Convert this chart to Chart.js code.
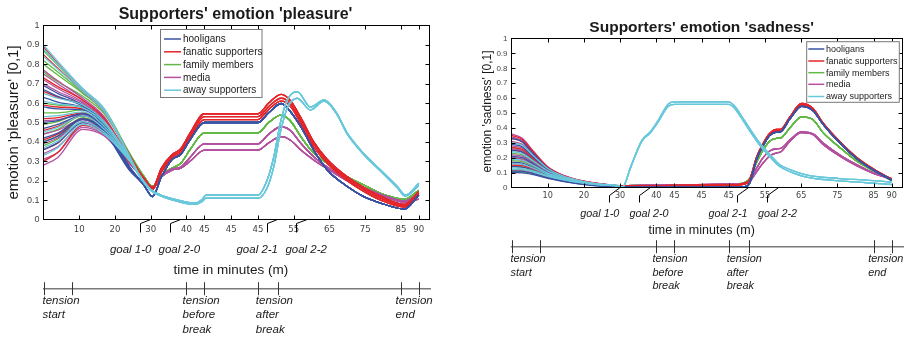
<!DOCTYPE html>
<html>
<head>
<meta charset="utf-8">
<script src="https://cdn.jsdelivr.net/npm/chart.js@4.4.1/dist/chart.umd.min.js"></script>
<style>
    html, body { margin: 0; padding: 0; background: #fff; }
    #wrap { position: relative; width: 910px; height: 339px; overflow: hidden; }
    .pane { position: absolute; top: 0; width: 455px; height: 339px; }
</style>
</head>
<body>
<div id="wrap">
    <div class="pane" style="left:0"><canvas id="pleasureChart" width="455" height="339"></canvas></div>
    <div class="pane" style="left:455px"><canvas id="sadnessChart" width="455" height="339"></canvas></div>
</div>
<script>
// Time axis in plot units: the half-time break is stretched over 45..60
const X_MIN = 0;
const X_MAX = 108;
const TICK_POS = [10, 20, 30, 40, 45, 52.5, 60, 70, 80, 90, 100, 105];
const TICK_LABELS = ['10', '20', '30', '40', '45', '45', '45', '55', '65', '75', '85', '90'];

const GROUPS = ['hooligans', 'fanatic supporters', 'family members', 'media', 'away supporters'];
const COLORS = ['#3a52a3', '#e3262b', '#63b946', '#b4519f', '#6ac8db'];

const GOAL_LABELS = ['goal 1-0', 'goal 2-0', 'goal 2-1', 'goal 2-2'];
const GOAL_AT = [30, 38.4, 65.5, 73.8];
const GOAL_LABEL_AT = [24.4, 38, 59.8, 73.5];

const TENSION_AT = [0, 8, 40, 45, 60, 65.5, 100, 105];
const TENSION_LABELS = [['tension', 'start'], ['tension', 'before', 'break'], ['tension', 'after', 'break'], ['tension', 'end']];
const TENSION_LABEL_AT = [0, 39.2, 59.7, 98.8];

// ---------- emotion 'pleasure' ----------
const P_HEAD_X = [0, 4, 11, 17, 24];
const P_HOOL_HEAD = [
    [0.69, 0.65, 0.59, 0.5, 0.275],
    [0.67, 0.635, 0.585, 0.495, 0.272],
    [0.63, 0.605, 0.575, 0.49, 0.27],
    [0.58, 0.57, 0.565, 0.485, 0.268],
    [0.50, 0.51, 0.545, 0.475, 0.265],
    [0.47, 0.49, 0.535, 0.47, 0.262],
    [0.42, 0.445, 0.52, 0.46, 0.26],
    [0.40, 0.43, 0.515, 0.455, 0.258],
    [0.36, 0.395, 0.5, 0.45, 0.255]
];
const P_FAN_HEAD = [
    [0.89, 0.805, 0.67, 0.565, 0.335],
    [0.85, 0.78, 0.66, 0.555, 0.33],
    [0.73, 0.685, 0.615, 0.52, 0.322],
    [0.66, 0.63, 0.59, 0.505, 0.318],
    [0.59, 0.58, 0.57, 0.49, 0.314],
    [0.52, 0.525, 0.55, 0.475, 0.31],
    [0.46, 0.48, 0.535, 0.465, 0.306],
    [0.41, 0.44, 0.52, 0.458, 0.303],
    [0.36, 0.395, 0.505, 0.45, 0.3],
    [0.30, 0.345, 0.485, 0.442, 0.297]
];
const P_FAM_HEAD = [
    [0.87, 0.795, 0.67, 0.57, 0.345],
    [0.82, 0.76, 0.655, 0.56, 0.342],
    [0.80, 0.745, 0.65, 0.555, 0.34],
    [0.76, 0.71, 0.635, 0.545, 0.338],
    [0.60, 0.59, 0.58, 0.505, 0.33],
    [0.55, 0.55, 0.565, 0.495, 0.328],
    [0.49, 0.505, 0.55, 0.485, 0.325],
    [0.44, 0.465, 0.535, 0.475, 0.322],
    [0.40, 0.43, 0.525, 0.47, 0.32],
    [0.38, 0.415, 0.52, 0.468, 0.32]
];
const P_MEDIA_HEAD = [
    [0.77, 0.715, 0.625, 0.53, 0.315],
    [0.75, 0.7, 0.615, 0.525, 0.313],
    [0.72, 0.675, 0.605, 0.515, 0.31],
    [0.70, 0.66, 0.6, 0.51, 0.308],
    [0.51, 0.515, 0.54, 0.47, 0.3],
    [0.44, 0.46, 0.515, 0.455, 0.297],
    [0.39, 0.42, 0.5, 0.445, 0.295],
    [0.34, 0.375, 0.485, 0.44, 0.293],
    [0.31, 0.345, 0.475, 0.435, 0.29],
    [0.28, 0.32, 0.465, 0.43, 0.288]
];
const P_AWAY_HEAD = [
    [0.90, 0.815, 0.675, 0.57, 0.33],
    [0.88, 0.8, 0.67, 0.565, 0.328],
    [0.84, 0.775, 0.66, 0.555, 0.326],
    [0.65, 0.625, 0.59, 0.505, 0.32],
    [0.61, 0.595, 0.575, 0.495, 0.318],
    [0.53, 0.535, 0.555, 0.48, 0.314],
    [0.45, 0.475, 0.535, 0.465, 0.31],
    [0.37, 0.405, 0.505, 0.45, 0.306],
    [0.33, 0.37, 0.49, 0.44, 0.303]
];

const P_HOME_X = [28, 30.5, 33, 36, 38.4, 41, 45, 60, 63, 66.5, 69, 72, 75.6, 79.4, 85, 89.6, 94.3, 101, 105];
const P_HOOL_TAIL = [0.18, 0.118, 0.22, 0.31, 0.335, 0.41, 0.5, 0.5, 0.55, 0.598, 0.558, 0.478, 0.358, 0.255, 0.17, 0.118, 0.085, 0.054, 0.125];
const P_FAN_TAIL_A = [0.215, 0.165, 0.265, 0.335, 0.365, 0.445, 0.545, 0.545, 0.6, 0.645, 0.615, 0.525, 0.4, 0.31, 0.22, 0.165, 0.12, 0.078, 0.145];
const P_FAN_TAIL_B = [0.21, 0.16, 0.255, 0.325, 0.355, 0.432, 0.53, 0.53, 0.583, 0.625, 0.6, 0.51, 0.39, 0.3, 0.21, 0.155, 0.11, 0.07, 0.135];
const P_FAN_TAIL_C = [0.205, 0.155, 0.245, 0.315, 0.345, 0.42, 0.515, 0.515, 0.567, 0.61, 0.585, 0.495, 0.375, 0.29, 0.2, 0.145, 0.1, 0.064, 0.128];
const P_FAM_TAIL = [0.225, 0.17, 0.23, 0.265, 0.29, 0.36, 0.447, 0.447, 0.5, 0.538, 0.51, 0.427, 0.342, 0.29, 0.22, 0.178, 0.135, 0.105, 0.15];
const P_MEDIA_TAIL_A = [0.215, 0.165, 0.225, 0.26, 0.27, 0.32, 0.39, 0.39, 0.44, 0.478, 0.46, 0.393, 0.324, 0.27, 0.205, 0.165, 0.13, 0.095, 0.135];
const P_MEDIA_TAIL_B = [0.21, 0.16, 0.22, 0.255, 0.265, 0.3, 0.358, 0.358, 0.395, 0.427, 0.41, 0.358, 0.307, 0.262, 0.2, 0.16, 0.125, 0.09, 0.105];

const P_AWAY_X = [27, 30, 33, 36.5, 40, 42.5, 44.2, 45.5, 60, 62.5, 64.4, 66.3, 68.2, 71, 74.7, 78.5, 82, 85, 89.6, 94.3, 99, 101.3, 105];
const P_AWAY_TAIL_A = [0.225, 0.155, 0.125, 0.105, 0.09, 0.085, 0.1, 0.126, 0.126, 0.2, 0.32, 0.5, 0.616, 0.659, 0.58, 0.617, 0.55, 0.445, 0.34, 0.255, 0.17, 0.126, 0.187];
const P_AWAY_TAIL_B = [0.22, 0.15, 0.12, 0.098, 0.082, 0.078, 0.09, 0.11, 0.11, 0.16, 0.27, 0.45, 0.575, 0.625, 0.565, 0.61, 0.545, 0.44, 0.335, 0.25, 0.163, 0.12, 0.175];

// ---------- emotion 'sadness' ----------
const S_HEAD_X = [0, 3, 6, 10, 14, 20, 25];
const S_HOOL_HEAD = [
    [0.33, 0.306, 0.228, 0.13, 0.077, 0.035, 0.015],
    [0.29, 0.273, 0.206, 0.122, 0.073, 0.033, 0.014],
    [0.25, 0.237, 0.183, 0.111, 0.068, 0.031, 0.013],
    [0.21, 0.2, 0.159, 0.099, 0.062, 0.029, 0.012],
    [0.17, 0.164, 0.134, 0.087, 0.056, 0.026, 0.011],
    [0.14, 0.137, 0.115, 0.078, 0.051, 0.024, 0.01],
    [0.11, 0.108, 0.094, 0.066, 0.045, 0.021, 0.009],
    [0.10, 0.098, 0.086, 0.061, 0.041, 0.019, 0.008]
];
const S_FAN_HEAD = [
    [0.35, 0.322, 0.24, 0.138, 0.084, 0.042, 0.024],
    [0.33, 0.306, 0.23, 0.134, 0.082, 0.041, 0.023],
    [0.27, 0.255, 0.197, 0.121, 0.076, 0.038, 0.021],
    [0.25, 0.237, 0.185, 0.115, 0.073, 0.037, 0.021],
    [0.19, 0.182, 0.148, 0.097, 0.065, 0.034, 0.019],
    [0.15, 0.146, 0.124, 0.085, 0.059, 0.032, 0.018],
    [0.12, 0.118, 0.104, 0.075, 0.053, 0.029, 0.016],
    [0.115, 0.113, 0.1, 0.073, 0.052, 0.029, 0.016]
];
const S_FAM_HEAD = [
    [0.30, 0.282, 0.214, 0.128, 0.079, 0.04, 0.022],
    [0.27, 0.255, 0.197, 0.121, 0.076, 0.038, 0.021],
    [0.23, 0.219, 0.173, 0.109, 0.071, 0.036, 0.02],
    [0.20, 0.191, 0.155, 0.1, 0.067, 0.035, 0.019],
    [0.18, 0.173, 0.142, 0.094, 0.064, 0.034, 0.019],
    [0.14, 0.137, 0.117, 0.082, 0.057, 0.031, 0.017],
    [0.11, 0.108, 0.097, 0.071, 0.05, 0.028, 0.016],
    [0.105, 0.103, 0.093, 0.069, 0.049, 0.027, 0.015]
];
const S_MEDIA_HEAD = [
    [0.36, 0.33, 0.245, 0.14, 0.085, 0.042, 0.024],
    [0.34, 0.315, 0.235, 0.136, 0.083, 0.041, 0.023],
    [0.31, 0.29, 0.22, 0.13, 0.08, 0.04, 0.022],
    [0.28, 0.264, 0.203, 0.124, 0.077, 0.039, 0.022],
    [0.26, 0.246, 0.191, 0.118, 0.075, 0.038, 0.021],
    [0.22, 0.21, 0.167, 0.106, 0.069, 0.036, 0.02],
    [0.20, 0.191, 0.155, 0.1, 0.067, 0.035, 0.019],
    [0.16, 0.155, 0.13, 0.088, 0.061, 0.033, 0.018]
];
const S_AWAY_HEAD = [
    [0.30, 0.282, 0.214, 0.128, 0.079, 0.04, 0.022],
    [0.24, 0.228, 0.179, 0.112, 0.072, 0.037, 0.02],
    [0.19, 0.182, 0.148, 0.097, 0.065, 0.034, 0.019],
    [0.16, 0.155, 0.13, 0.088, 0.061, 0.033, 0.018],
    [0.13, 0.127, 0.111, 0.079, 0.055, 0.03, 0.017],
    [0.12, 0.118, 0.104, 0.075, 0.053, 0.029, 0.016]
];

const S_HOME_X = [30, 40, 45, 60, 64.5, 65.8, 67.7, 69.5, 71.3, 73.2, 74.3, 76.9, 80.1, 83.3, 86, 90.6, 95.2, 99.8, 105];
const S_HOOL_TAIL = [0.0, 0.0, 0.002, 0.003, 0.005, 0.03, 0.19, 0.28, 0.348, 0.372, 0.374, 0.46, 0.545, 0.515, 0.425, 0.3, 0.197, 0.12, 0.05];
const S_FAN_TAIL_A = [0.01, 0.012, 0.014, 0.016, 0.03, 0.055, 0.205, 0.295, 0.362, 0.39, 0.39, 0.474, 0.564, 0.53, 0.435, 0.31, 0.205, 0.127, 0.055];
const S_FAN_TAIL_B = [0.01, 0.011, 0.012, 0.014, 0.025, 0.045, 0.195, 0.285, 0.352, 0.38, 0.381, 0.465, 0.555, 0.523, 0.43, 0.305, 0.2, 0.123, 0.052];
const S_FAM_TAIL = [0.012, 0.015, 0.018, 0.02, 0.035, 0.06, 0.17, 0.25, 0.31, 0.33, 0.332, 0.4, 0.474, 0.455, 0.37, 0.27, 0.18, 0.115, 0.048];
const S_MEDIA_TAIL_A = [0.012, 0.015, 0.018, 0.022, 0.03, 0.05, 0.13, 0.2, 0.245, 0.26, 0.262, 0.32, 0.373, 0.36, 0.3, 0.22, 0.155, 0.1, 0.06];
const S_MEDIA_TAIL_B = [0.012, 0.015, 0.018, 0.02, 0.026, 0.04, 0.105, 0.165, 0.212, 0.232, 0.238, 0.31, 0.368, 0.355, 0.29, 0.212, 0.148, 0.097, 0.056];

const S_AWAY_X = [30, 30.6, 33, 36, 38.3, 40.5, 43.3, 45, 60, 61.5, 63, 65.8, 68.6, 72, 74, 77, 81.4, 90.6, 98, 105];
const S_AWAY_TAIL_A = [0.008, 0.0, 0.145, 0.317, 0.373, 0.45, 0.56, 0.575, 0.575, 0.55, 0.5, 0.395, 0.297, 0.205, 0.155, 0.12, 0.085, 0.06, 0.05, 0.037];
const S_AWAY_TAIL_B = [0.008, 0.0, 0.14, 0.31, 0.366, 0.44, 0.545, 0.558, 0.558, 0.535, 0.485, 0.38, 0.283, 0.19, 0.142, 0.105, 0.07, 0.045, 0.032, 0.02];

const SANS = '"Liberation Sans", Arial, Helvetica, sans-serif';
const NARROW = '"Liberation Sans Narrow", "DejaVu Sans Condensed", "Liberation Sans", sans-serif';

/**
 * Glues an agent's own start of the match onto its group's shared course
 */
function joinLine(headX, head, tailX, tail) {
    const pts = headX.map((x, i) => ({ x: x, y: head[i] }));
    tailX.forEach((x, i) => pts.push({ x: x, y: tail[i] }));
    return pts;
}

function buildDatasets(groups) {
    const sets = [];
    groups.forEach(g => {
        g.heads.forEach((head, i) => {
            sets.push({
                label: GROUPS[g.idx],
                data: joinLine(g.headX, head, g.tailX, g.tails[i % g.tails.length]),
                borderColor: COLORS[g.idx],
                borderWidth: 1.3,
                pointRadius: 0,
                fill: false,
                cubicInterpolationMode: 'monotone'
            });
        });
    });
    return sets;
}

/**
 * MATLAB-like decorations: boxed axes with inward ticks, title, legend,
 * goal markers under the time axis and the tension timeline.
 */
const decorPlugin = {
    id: 'decor',
    afterDraw(chart, args, o) {
        const ctx = chart.ctx;
        const a = chart.chartArea;
        const xs = chart.scales.x;
        const ys = chart.scales.y;
        ctx.save();

        // frame + inward ticks
        ctx.strokeStyle = '#000';
        ctx.lineWidth = 1;
        ctx.strokeRect(a.left, a.top, a.right - a.left, a.bottom - a.top);
        ctx.beginPath();
        TICK_POS.forEach(v => {
            const px = Math.round(xs.getPixelForValue(v)) + 0.5;
            ctx.moveTo(px, a.bottom); ctx.lineTo(px, a.bottom - 4);
            ctx.moveTo(px, a.top); ctx.lineTo(px, a.top + 4);
        });
        for (let k = 1; k < 10; k++) {
            const py = Math.round(ys.getPixelForValue(k / 10)) + 0.5;
            ctx.moveTo(a.left, py); ctx.lineTo(a.left + 4, py);
            ctx.moveTo(a.right, py); ctx.lineTo(a.right - 4, py);
        }
        ctx.stroke();

        // title
        ctx.fillStyle = '#1a1a1a';
        ctx.textAlign = 'center';
        ctx.textBaseline = 'middle';
        ctx.font = `bold ${o.titleSize}px ${SANS}`;
        ctx.fillText(o.title, o.titleX, o.titleY);

        // y axis title
        ctx.save();
        ctx.translate(o.yTitleX, o.yTitleY);
        ctx.rotate(-Math.PI / 2);
        ctx.font = `${o.yTitleSize}px ${SANS}`;
        ctx.fillText(o.yTitle, 0, 0);
        ctx.restore();

        // goal leader lines and labels
        ctx.beginPath();
        GOAL_AT.forEach(g => {
            const p0 = xs.getPixelForValue(g);
            const p1 = Math.round(xs.getPixelForValue(g - 3.1)) + 0.5;
            ctx.moveTo(p0, a.bottom);
            ctx.lineTo(p1, a.bottom + o.goalDrop);
            ctx.lineTo(p1, a.bottom + o.goalDrop + o.goalStem);
        });
        ctx.stroke();
        ctx.font = `italic ${o.goalSize}px ${SANS}`;
        GOAL_LABELS.forEach((t, i) => {
            ctx.fillText(t, xs.getPixelForValue(GOAL_LABEL_AT[i]), o.goalY);
        });

        // x axis title
        ctx.font = `${o.xTitleSize}px ${SANS}`;
        ctx.fillText('time in minutes (m)', o.xTitleX, o.xTitleY);

        // tension timeline
        ctx.strokeStyle = '#7a7a7a';
        ctx.lineWidth = 1.6;
        ctx.beginPath();
        ctx.moveTo(o.tlX0, o.tlY);
        ctx.lineTo(o.tlX1, o.tlY);
        ctx.stroke();
        ctx.strokeStyle = '#333';
        ctx.lineWidth = 1;
        ctx.beginPath();
        TENSION_AT.forEach(t => {
            const px = Math.round(xs.getPixelForValue(t)) + 0.5;
            ctx.moveTo(px, o.tlY - 6.5);
            ctx.lineTo(px, o.tlY + 6.5);
        });
        ctx.stroke();
        ctx.textAlign = 'left';
        ctx.font = `italic ${o.tlSize}px ${SANS}`;
        TENSION_LABELS.forEach((lines, i) => {
            const px = xs.getPixelForValue(TENSION_LABEL_AT[i]) - 1;
            lines.forEach((t, j) => ctx.fillText(t, px, o.tlLabelY + j * o.tlLabelGap));
        });

        // legend
        const lg = o.legend;
        ctx.fillStyle = '#fff';
        ctx.fillRect(lg.x, lg.y, lg.w, lg.h);
        ctx.strokeStyle = '#777';
        ctx.strokeRect(lg.x, lg.y, lg.w, lg.h);
        ctx.font = `${lg.size}px ${SANS}`;
        GROUPS.forEach((name, i) => {
            const ry = lg.rows[i];
            ctx.strokeStyle = COLORS[i];
            ctx.lineWidth = 1.5;
            ctx.beginPath();
            ctx.moveTo(lg.lineX0, ry);
            ctx.lineTo(lg.lineX1, ry);
            ctx.stroke();
            ctx.fillStyle = '#222';
            ctx.fillText(name, lg.textX, ry + 0.5);
        });

        ctx.restore();
    }
};

function makeChart(id, datasets, look) {
    return new Chart(document.getElementById(id), {
        type: 'line',
        data: { datasets: datasets },
        options: {
            responsive: false,
            animation: false,
            events: [],
            layout: { padding: look.padding },
            plugins: {
                legend: { display: false },
                tooltip: { enabled: false },
                decor: look
            },
            scales: {
                x: {
                    type: 'linear',
                    min: X_MIN,
                    max: X_MAX,
                    border: { display: false },
                    grid: { display: false, drawTicks: false },
                    afterBuildTicks: s => { s.ticks = TICK_POS.map(v => ({ value: v })); },
                    afterFit: s => { s.height = look.xAxisHeight; },
                    ticks: {
                        autoSkip: false,
                        maxRotation: 0,
                        padding: look.xTickPad,
                        color: '#444',
                        font: { family: NARROW, size: look.xTickSize },
                        callback: (v, i) => TICK_LABELS[i]
                    }
                },
                y: {
                    min: 0,
                    max: 1,
                    border: { display: false },
                    grid: { display: false, drawTicks: false },
                    afterFit: s => { s.width = look.yAxisWidth; },
                    ticks: {
                        stepSize: 0.1,
                        padding: look.yTickPad,
                        color: '#444',
                        font: { family: SANS, size: look.yTickSize },
                        callback: v => String(Math.round(v * 10) / 10)
                    }
                }
            }
        },
        plugins: [decorPlugin]
    });
}

const pleasureSets = buildDatasets([
    { idx: 4, headX: P_HEAD_X, heads: P_AWAY_HEAD, tailX: P_AWAY_X, tails: [P_AWAY_TAIL_A, P_AWAY_TAIL_B] },
    { idx: 0, headX: P_HEAD_X, heads: P_HOOL_HEAD, tailX: P_HOME_X, tails: [P_HOOL_TAIL] },
    { idx: 1, headX: P_HEAD_X, heads: P_FAN_HEAD, tailX: P_HOME_X, tails: [P_FAN_TAIL_A, P_FAN_TAIL_B, P_FAN_TAIL_C] },
    { idx: 3, headX: P_HEAD_X, heads: P_MEDIA_HEAD, tailX: P_HOME_X, tails: [P_MEDIA_TAIL_A, P_MEDIA_TAIL_B] },
    { idx: 2, headX: P_HEAD_X, heads: P_FAM_HEAD, tailX: P_HOME_X, tails: [P_FAM_TAIL] }
]);

const sadnessSets = buildDatasets([
    { idx: 4, headX: S_HEAD_X, heads: S_AWAY_HEAD, tailX: S_AWAY_X, tails: [S_AWAY_TAIL_A, S_AWAY_TAIL_B] },
    { idx: 0, headX: S_HEAD_X, heads: S_HOOL_HEAD, tailX: S_HOME_X, tails: [S_HOOL_TAIL] },
    { idx: 1, headX: S_HEAD_X, heads: S_FAN_HEAD, tailX: S_HOME_X, tails: [S_FAN_TAIL_A, S_FAN_TAIL_B] },
    { idx: 3, headX: S_HEAD_X, heads: S_MEDIA_HEAD, tailX: S_HOME_X, tails: [S_MEDIA_TAIL_A, S_MEDIA_TAIL_B] },
    { idx: 2, headX: S_HEAD_X, heads: S_FAM_HEAD, tailX: S_HOME_X, tails: [S_FAM_TAIL] }
]);

makeChart('pleasureChart', pleasureSets, {
    padding: { left: 0, right: 25.5, top: 25.5, bottom: 99.5 },
    yAxisWidth: 43.5, xAxisHeight: 20, xTickPad: 4, yTickPad: 4,
    xTickSize: 9.5, yTickSize: 9,
    title: "Supporters' emotion 'pleasure'", titleSize: 16, titleX: 235.5, titleY: 14.5,
    yTitle: "emotion 'pleasure' [0,1]", yTitleSize: 15, yTitleX: 14, yTitleY: 122.5,
    goalDrop: 4, goalStem: 9, goalSize: 11.5, goalY: 250,
    xTitleSize: 13.5, xTitleX: 230.8, xTitleY: 270,
    tlX0: 43, tlX1: 431, tlY: 288.7, tlSize: 11.5, tlLabelY: 300.7, tlLabelGap: 14.3,
    legend: { x: 160.5, y: 29.5, w: 101.5, h: 68, rows: [39, 51.8, 64.6, 77.4, 90.2], lineX0: 164, lineX1: 181, textX: 183, size: 10 }
});

makeChart('sadnessChart', sadnessSets, {
    padding: { left: 0, right: 7.5, top: 38.5, bottom: 131.5 },
    yAxisWidth: 56.5, xAxisHeight: 20, xTickPad: 3, yTickPad: 4,
    xTickSize: 9, yTickSize: 8,
    title: "Supporters' emotion 'sadness'", titleSize: 15.5, titleX: 246.7, titleY: 27.5,
    yTitle: "emotion 'sadness' [0,1]", yTitleSize: 12, yTitleX: 33, yTitleY: 111.5,
    goalDrop: 8, goalStem: 7, goalSize: 10.8, goalY: 214,
    xTitleSize: 12.5, xTitleX: 246.7, xTitleY: 231,
    tlX0: 55.7, tlX1: 449, tlY: 246.7, tlSize: 10.9, tlLabelY: 259, tlLabelGap: 13.5,
    legend: { x: 351.7, y: 41.7, w: 92.6, h: 60.6, rows: [49, 61, 72.7, 84.3, 96.5], lineX0: 353.3, lineX1: 369.3, textX: 371, size: 9 }
});
</script>
</body>
</html>
